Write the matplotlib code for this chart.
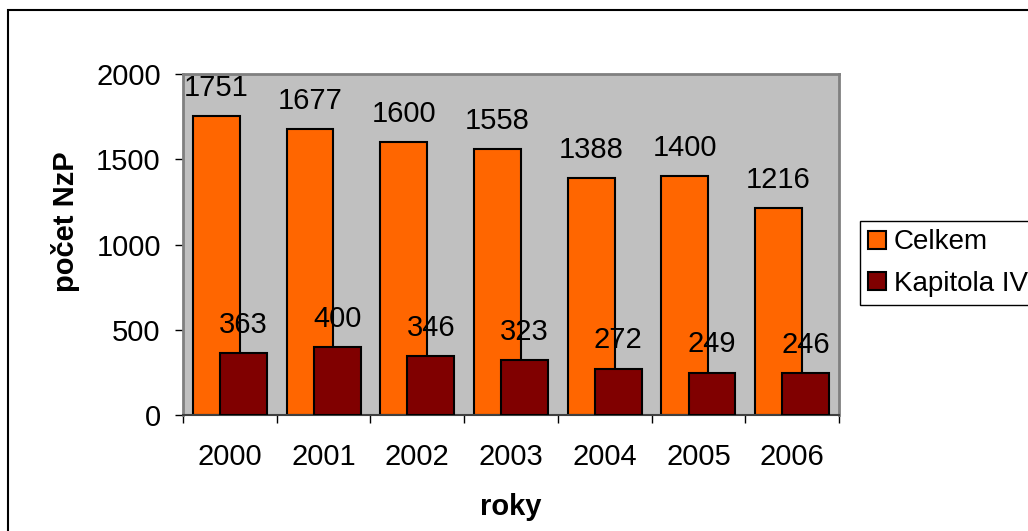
import matplotlib
matplotlib.use("Agg")
import matplotlib.pyplot as plt
from matplotlib.patches import Rectangle
import numpy as np

plt.rcParams['font.family'] = ['Liberation Sans', 'DejaVu Sans']

years = ["2000", "2001", "2002", "2003", "2004", "2005", "2006"]
celkem = [1751, 1677, 1600, 1558, 1388, 1400, 1216]
kapitola = [363, 400, 346, 323, 272, 249, 246]
series_names = ["Celkem", "Kapitola IV"]
y_ticks = [0, 500, 1000, 1500, 2000]

W, H = 1028, 531
fig = plt.figure(figsize=(W / 100, H / 100), dpi=100)
ax = fig.add_axes([183 / W, 1 - 415 / H, (839 - 183) / W, (415 - 74) / H])
ax.set_facecolor('#C0C0C0')

x = np.arange(len(years))
off = 0.145
bw = 0.5
b1 = ax.bar(x - off, celkem, bw, color='#FF6600', edgecolor='black', linewidth=1.5,
            label=series_names[0], zorder=2)
b2 = ax.bar(x + off, kapitola, bw, color='#800000', edgecolor='black', linewidth=1.5,
            label=series_names[1], zorder=3)

fs = 21
for xi, v in zip(x - off, celkem):
    ax.annotate(str(v), (xi, v), xytext=(0, 14.5), textcoords='offset points',
                ha='center', va='baseline', fontsize=fs, zorder=5)
for xi, v in zip(x + off, kapitola):
    ax.annotate(str(v), (xi, v), xytext=(0, 14.5), textcoords='offset points',
                ha='center', va='baseline', fontsize=fs, zorder=5)

ax.set_xlim(-0.5, len(years) - 0.5)
ax.set_ylim(0, 2000)
ax.set_yticks(y_ticks)
ax.set_yticklabels([str(t) for t in y_ticks], fontsize=fs)
ax.tick_params(axis='y', direction='out', length=6, width=1, pad=10, colors='black')

ax.set_xticks(x)
ax.set_xticklabels(years, fontsize=fs)
ax.tick_params(axis='x', which='major', length=0, pad=20)
ax.set_xticks(np.arange(-0.5, len(years), 1.0), minor=True)
ax.tick_params(axis='x', which='minor', direction='out', length=6, width=1, color='black')

for s in ax.spines.values():
    s.set_color('#808080')
    s.set_linewidth(2)
ax.spines['bottom'].set_color('#404040')
ax.spines['bottom'].set_linewidth(1.5)

fig.text(66 / W, 1 - 222 / H, "počet NzP", rotation=90, ha='center', va='center',
         fontsize=fs, fontweight='bold')
fig.text(511 / W, 1 - 507 / H, "roky", ha='center', va='center',
         fontsize=fs, fontweight='bold')

lfs = 20
leg = fig.legend(handles=[b1, b2], labels=series_names, loc='upper left',
                 bbox_to_anchor=(860 / W, 1 - 221 / H), fontsize=lfs,
                 frameon=True, fancybox=False, edgecolor='black', framealpha=1,
                 handlelength=0.62, handleheight=0.62, handletextpad=0.3,
                 labelspacing=0.55, borderpad=0.3, borderaxespad=0)
leg.get_frame().set_linewidth(1)

fig.patches.append(Rectangle((8 / W, -0.1), 1.2, 1.1 - 10 / H,
                             transform=fig.transFigure, fill=False,
                             edgecolor='black', linewidth=1.5, figure=fig))

fig.savefig("out.png", dpi=100)
